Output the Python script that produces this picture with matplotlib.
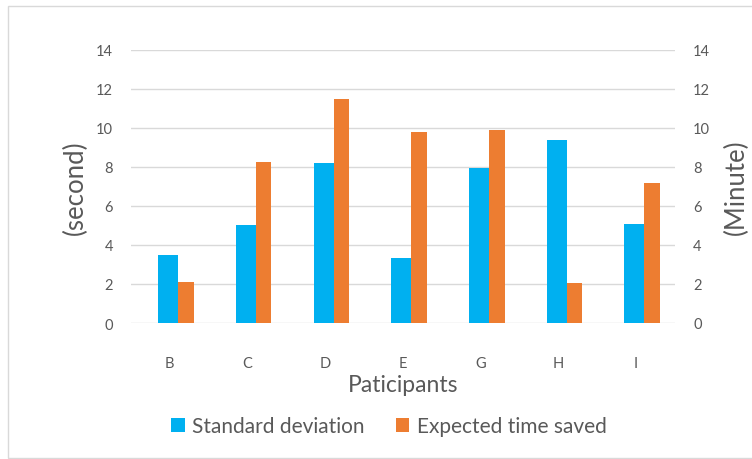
import matplotlib
matplotlib.use("Agg")
import matplotlib.pyplot as plt
import numpy as np
from matplotlib.patches import Rectangle

plt.rcParams['font.family'] = ['Lato', 'DejaVu Sans']

participants = ["B", "C", "D", "E", "G", "H", "I"]
std_dev = [3.5, 5.05, 8.2, 3.35, 7.95, 9.4, 5.1]
time_saved = [2.1, 8.25, 11.5, 9.8, 9.9, 2.05, 7.2]
yticks = [0, 2, 4, 6, 8, 10, 12, 14]

BLUE = "#00B0F0"
ORANGE = "#ED7D31"
TXT = "#595959"
GRID = "#D9D9D9"

W, H = 752, 460
fig = plt.figure(figsize=(W / 100, H / 100), dpi=100)
fig.patches.append(Rectangle((8 / W, 1 / H), 1.2, (H - 7 - 1) / H, transform=fig.transFigure,
                             fill=False, edgecolor="#D9D9D9", linewidth=1.0))

ax = fig.add_axes([131 / W, 1 - 324 / H, (675 - 131) / W, (324 - 51) / H])
ax2 = ax.twinx()

x = np.arange(len(participants))
bw_blue = 0.26
bw_orange = 0.20
ax.bar(x - 0.151, std_dev, width=bw_blue, align="edge", color=BLUE, label="Standard deviation", zorder=3)
ax2.bar(x + 0.107, time_saved, width=bw_orange, align="edge", color=ORANGE, label="Expected time saved", zorder=3)

for a in (ax, ax2):
    a.set_ylim(0, 14)
    a.set_yticks(yticks)
    a.set_xlim(-0.5, len(participants) - 0.5)
    for s in a.spines.values():
        s.set_visible(False)
    a.tick_params(axis="both", length=0, colors=TXT, labelsize=10.5)
    a.tick_params(axis="y", pad=13)

ax.set_yticklabels([str(t) for t in yticks])
ax2.set_yticklabels([str(t) for t in yticks])
ax.set_xticks(x)
ax.set_xticklabels(participants)
ax.tick_params(axis="x", pad=24)
ax.grid(axis="y", color=GRID, linewidth=1.0, zorder=0)
ax.set_axisbelow(True)

ax.set_xlabel("Paticipants", fontsize=16.5, color=TXT, labelpad=3)
ax.set_ylabel("(second)", fontsize=18.5, color=TXT, labelpad=6)
ax2.set_ylabel("(Minute)", fontsize=18.5, color=TXT, labelpad=10)

h1, l1 = ax.get_legend_handles_labels()
h2, l2 = ax2.get_legend_handles_labels()
fig.legend(h1 + h2, l1 + l2, loc="center", bbox_to_anchor=(389 / W, 1 - 427 / H), ncol=2,
           frameon=False, fontsize=15, labelcolor=TXT, handlelength=0.65, handleheight=0.65,
           handletextpad=0.35, columnspacing=1.5)

fig.savefig("out.png", dpi=100)
